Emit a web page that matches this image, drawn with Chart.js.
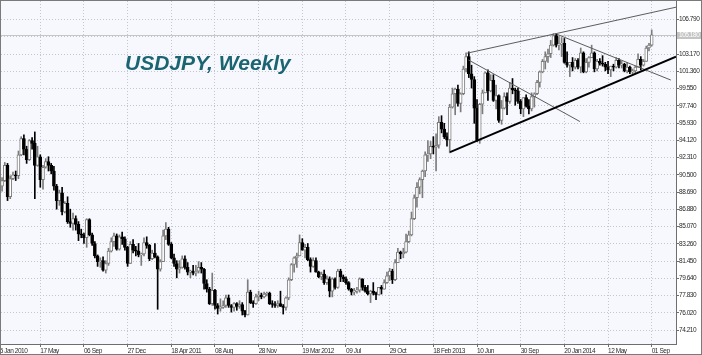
<!DOCTYPE html>
<html>
<head>
<meta charset="utf-8">
<script src="https://cdn.jsdelivr.net/npm/chart.js@4.4.1/dist/chart.umd.min.js"></script>
<style>
    html, body { margin: 0; padding: 0; background: #fff; }
    canvas { display: block; }
</style>
</head>
<body>
<canvas id="usdjpyChart" width="702" height="355"></canvas>
<script>
// weekly bars, index 0 = week of 25 Jan 2010, index 240 = week of 01 Sep 2014
const xTickWeeks = [0, 16, 32, 48, 64, 80, 96, 112, 128, 144, 160, 176, 192, 208, 224, 240];
const xTickLabels = ['25 Jan 2010', '17 May', '06 Sep', '27 Dec', '18 Apr 2011', '08 Aug', '28 Nov',
    '19 Mar 2012', '09 Jul', '29 Oct', '18 Feb 2013', '10 Jun', '30 Sep', '20 Jan 2014', '12 May', '01 Sep'];
const yTicks = [74.21, 76.02, 77.83, 79.64, 81.45, 83.26, 85.07, 86.88, 88.69, 90.50,
    92.31, 94.12, 95.93, 97.74, 99.55, 101.36, 103.17, 104.98, 106.79];
const currentPrice = 105.18;

const opens = [
    90.3, 90.3, 89.3, 89.9, 91.5, 88.2, 90.1, 90.5, 90.4, 92.6,
    94.3, 93.2, 92.1, 94.1, 93.8, 91.5, 92.4, 90.0, 91.3, 91.9,
    91.5, 90.9, 89.3, 87.8, 88.6, 86.6, 87.5, 85.6, 85.4, 85.9,
    85.3, 84.3, 84.2, 83.9, 85.8, 84.2, 83.3, 82.0, 81.4, 81.5,
    80.5, 81.2, 82.5, 83.5, 84.1, 82.7, 84.0, 83.8, 82.9, 81.2,
    83.2, 82.6, 82.5, 82.1, 82.2, 83.4, 83.1, 81.7, 82.3, 81.9,
    80.6, 81.4, 84.1, 84.8, 83.2, 81.8, 81.2, 80.6, 80.8, 81.7,
    80.8, 80.3, 80.4, 80.2, 80.4, 80.8, 80.6, 79.1, 78.5, 77.0,
    78.4, 76.8, 76.5, 76.6, 76.8, 77.6, 76.8, 76.6, 77.0, 76.7,
    76.9, 76.2, 75.8, 78.2, 77.1, 77.0, 77.7, 77.9, 77.7, 78.0,
    78.1, 77.0, 76.9, 76.8, 77.0, 76.7, 76.6, 77.6, 79.5, 81.1,
    81.8, 82.0, 83.4, 82.6, 82.9, 81.6, 80.9, 81.5, 80.3, 79.8,
    80.1, 79.2, 79.6, 78.3, 79.6, 78.7, 80.4, 79.8, 79.6, 79.2,
    78.5, 78.2, 78.3, 78.4, 79.6, 78.7, 78.3, 78.0, 78.3, 78.1,
    77.9, 78.7, 78.5, 79.2, 79.9, 80.4, 79.5, 81.3, 82.4, 82.2,
    82.4, 83.5, 84.2, 85.9, 88.1, 89.2, 90.0, 90.9, 92.6, 92.7,
    93.5, 93.4, 93.6, 96.0, 95.3, 94.5, 94.2, 97.6, 99.0, 99.5,
    98.0, 99.0, 101.6, 102.9, 101.1, 100.5, 97.5, 94.1, 97.9, 99.1,
    101.2, 99.3, 100.4, 98.3, 98.8, 96.2, 97.5, 98.7, 98.2, 99.6,
    99.4, 99.3, 98.2, 97.4, 98.6, 97.7, 97.4, 98.7, 99.0, 100.2,
    101.3, 102.4, 102.9, 103.2, 104.1, 105.1, 104.1, 104.2, 104.3, 102.3,
    102.0, 102.3, 101.8, 102.5, 101.8, 103.3, 101.3, 102.3, 102.8, 103.3,
    101.6, 102.4, 102.2, 102.1, 101.8, 101.5, 101.9, 101.8, 102.5, 102.0,
    102.1, 101.4, 101.8, 101.3, 101.4, 101.8, 102.6, 102.0, 102.4, 103.8,
    104.1
];
const highs = [
    90.9, 91.3, 90.2, 91.8, 91.7, 90.4, 90.8, 90.9, 93.0, 94.5,
    94.7, 93.5, 94.2, 94.4, 95.0, 93.5, 92.6, 91.5, 92.2, 92.4,
    91.7, 91.4, 89.5, 88.9, 89.2, 87.7, 88.2, 86.9, 86.5, 86.2,
    85.6, 84.8, 84.4, 85.9, 85.9, 84.4, 83.5, 82.1, 81.8, 81.9,
    81.5, 82.8, 83.9, 84.4, 84.3, 84.2, 84.5, 84.0, 83.0, 83.5,
    83.7, 83.0, 83.3, 82.3, 83.9, 84.0, 83.2, 82.6, 83.3, 82.0,
    81.6, 84.7, 85.5, 85.0, 83.4, 82.2, 81.5, 81.5, 82.0, 82.0,
    81.3, 80.5, 81.0, 81.0, 81.4, 81.3, 80.7, 79.5, 78.7, 80.2,
    78.5, 77.0, 77.5, 77.3, 77.9, 77.9, 76.9, 77.1, 77.1, 77.3,
    77.1, 76.3, 79.5, 78.4, 77.3, 78.0, 78.3, 78.1, 78.2, 78.2,
    78.2, 77.3, 77.2, 77.3, 78.3, 76.9, 77.7, 79.7, 81.2, 81.9,
    82.3, 84.2, 83.8, 83.2, 83.3, 81.8, 81.8, 81.8, 80.4, 80.3,
    80.5, 79.9, 79.8, 79.7, 79.7, 80.6, 80.6, 80.0, 79.8, 79.3,
    78.6, 78.6, 78.7, 79.7, 79.6, 78.9, 78.9, 78.4, 79.2, 78.2,
    78.7, 78.9, 79.5, 80.3, 80.7, 80.6, 81.6, 82.8, 82.5, 82.8,
    84.3, 84.6, 86.6, 88.4, 89.7, 90.2, 91.0, 92.9, 94.1, 94.0,
    94.5, 94.8, 96.6, 96.7, 95.9, 94.9, 97.9, 99.6, 99.6, 99.9,
    99.1, 101.9, 103.3, 103.4, 102.0, 100.8, 98.4, 98.0, 99.4, 101.3,
    101.5, 101.0, 101.0, 99.9, 98.9, 98.3, 99.1, 99.1, 100.2, 100.6,
    99.6, 99.6, 98.4, 98.6, 98.9, 98.4, 99.1, 99.1, 100.4, 101.4,
    102.6, 103.4, 103.7, 104.6, 105.3, 105.3, 105.0, 104.9, 104.8, 103.4,
    102.3, 102.8, 102.7, 102.7, 103.8, 103.4, 102.7, 102.9, 104.1, 103.4,
    102.6, 102.7, 103.0, 102.3, 102.4, 101.9, 102.1, 102.8, 102.7, 102.4,
    102.2, 102.3, 101.9, 101.6, 101.9, 103.2, 102.9, 102.6, 104.0, 104.3,
    105.7
];
const lows = [
    89.3, 88.9, 88.8, 89.8, 87.8, 88.0, 90.0, 89.9, 90.1, 92.5,
    92.6, 91.7, 92.0, 93.2, 88.0, 91.4, 89.2, 89.0, 91.2, 90.9,
    90.6, 88.9, 86.9, 87.3, 86.3, 86.5, 85.4, 85.0, 84.7, 84.7,
    83.6, 83.9, 83.3, 82.9, 84.1, 83.1, 81.8, 80.9, 80.8, 80.4,
    80.2, 81.0, 82.4, 83.0, 82.6, 82.6, 83.2, 82.6, 80.9, 81.2,
    82.3, 82.0, 81.9, 81.0, 82.0, 82.8, 81.5, 81.6, 81.8, 76.4,
    80.4, 81.4, 83.7, 83.1, 81.7, 80.9, 79.7, 80.2, 80.7, 80.6,
    80.0, 79.7, 80.0, 79.9, 80.2, 80.2, 78.5, 78.2, 76.9, 76.8,
    76.4, 75.9, 76.2, 76.5, 76.6, 76.6, 76.1, 76.2, 76.3, 76.5,
    75.8, 75.6, 75.8, 77.0, 76.6, 76.9, 77.3, 77.5, 77.6, 77.8,
    76.9, 76.6, 76.6, 76.6, 76.7, 75.9, 76.3, 77.4, 79.4, 80.3,
    80.8, 82.0, 82.6, 81.8, 81.5, 80.3, 80.8, 80.3, 79.7, 79.5,
    79.0, 79.0, 77.7, 77.7, 78.5, 78.6, 79.3, 79.3, 79.0, 78.4,
    77.9, 77.9, 78.1, 78.2, 78.4, 78.2, 77.9, 77.1, 77.9, 77.4,
    77.9, 78.0, 78.5, 79.1, 79.4, 79.1, 79.4, 81.3, 81.7, 81.8,
    82.3, 83.4, 84.1, 85.8, 87.1, 88.5, 88.1, 90.3, 91.9, 92.2,
    92.7, 90.9, 93.3, 94.9, 94.3, 93.5, 92.8, 97.5, 96.8, 97.7,
    97.1, 98.9, 101.3, 100.7, 99.6, 95.9, 94.0, 93.8, 96.9, 99.1,
    98.3, 99.2, 98.2, 97.4, 96.0, 95.8, 97.4, 96.8, 98.0, 99.0,
    97.8, 98.0, 96.9, 96.6, 97.6, 96.9, 97.2, 97.6, 98.9, 99.7,
    101.2, 101.6, 102.3, 102.8, 104.0, 103.9, 103.6, 102.9, 102.2, 101.8,
    100.8, 101.4, 101.6, 101.6, 101.2, 101.2, 101.2, 101.8, 102.8, 101.3,
    101.4, 102.0, 101.9, 101.4, 101.1, 100.8, 101.4, 101.7, 101.7, 101.7,
    101.3, 101.2, 101.1, 101.1, 101.1, 101.8, 101.5, 101.9, 102.4, 103.5,
    104.0
];
const closes = [
    90.3, 89.2, 89.9, 91.5, 88.2, 90.1, 90.5, 90.4, 92.6, 94.3,
    93.2, 92.1, 94.1, 93.8, 91.5, 92.4, 90.0, 91.3, 91.9, 91.5,
    90.9, 89.3, 87.8, 88.6, 86.6, 87.5, 85.6, 85.4, 85.9, 85.3,
    84.3, 84.2, 83.9, 85.8, 84.2, 83.3, 82.0, 81.4, 81.5, 80.5,
    81.2, 82.5, 83.5, 84.1, 82.7, 84.0, 83.8, 82.9, 81.2, 83.2,
    82.6, 82.5, 82.1, 82.2, 83.4, 83.1, 81.7, 82.3, 81.9, 80.6,
    81.4, 84.1, 84.8, 83.2, 81.8, 81.2, 80.6, 80.8, 81.7, 80.8,
    80.3, 80.4, 80.2, 80.4, 80.8, 80.6, 79.1, 78.5, 77.0, 78.4,
    76.8, 76.5, 76.6, 76.8, 77.6, 76.8, 76.6, 77.0, 76.7, 76.9,
    76.2, 75.8, 78.2, 77.1, 77.0, 77.7, 77.9, 77.7, 78.0, 78.1,
    77.0, 76.9, 76.8, 77.0, 76.7, 76.6, 77.6, 79.5, 81.1, 81.8,
    82.0, 83.4, 82.6, 82.9, 81.6, 80.9, 81.5, 80.3, 79.8, 80.1,
    79.2, 79.6, 78.3, 79.6, 78.7, 80.4, 79.8, 79.6, 79.2, 78.5,
    78.2, 78.3, 78.4, 79.6, 78.7, 78.3, 78.0, 78.3, 78.1, 77.9,
    78.7, 78.5, 79.2, 79.9, 80.4, 79.5, 81.3, 82.4, 82.2, 82.4,
    83.5, 84.2, 85.9, 88.1, 89.2, 90.0, 90.9, 92.6, 92.7, 93.5,
    93.4, 93.6, 96.0, 95.3, 94.5, 94.2, 97.6, 99.0, 99.5, 98.0,
    99.0, 101.6, 102.9, 101.1, 100.5, 97.5, 94.1, 97.9, 99.1, 101.2,
    99.3, 100.4, 98.3, 98.8, 96.2, 97.5, 98.7, 98.2, 99.6, 99.4,
    99.3, 98.2, 97.4, 98.6, 97.7, 97.4, 98.7, 99.0, 100.2, 101.3,
    102.4, 102.9, 103.2, 104.1, 105.1, 104.1, 104.2, 104.3, 102.3, 102.0,
    102.3, 101.8, 102.5, 101.8, 103.3, 101.3, 102.3, 102.8, 103.3, 101.6,
    102.4, 102.2, 102.1, 101.8, 101.5, 101.9, 101.8, 102.5, 102.0, 102.1,
    101.4, 101.8, 101.3, 101.4, 101.8, 102.6, 102.0, 102.4, 103.8, 104.1,
    105.18
];

// trend lines as [week, price, week, price]
const thinLines = [
    [172.4, 103.26, 248.9, 108.08],
    [172.8, 102.56, 213.7, 96.09],
    [205.2, 105.25, 247.0, 100.44]
];
const supportLine = [166.1, 92.88, 248.9, 102.9];

const tickFont = { family: "'Liberation Sans', Arial, sans-serif", size: 6.5 };
const bullGray = '#7c7c7c';
const isBull = opens.map((o, i) => closes[i] >= o);

const chartBackground = {
    id: 'chartBackground',
    beforeDraw(chart) {
        const { ctx, chartArea: a } = chart;
        ctx.fillStyle = '#ffffff';
        ctx.fillRect(0, 0, chart.width, chart.height);
        ctx.fillStyle = '#f7f8fd';
        ctx.fillRect(a.left, a.top, a.right - a.left, a.bottom - a.top);
        // squeeze the axis labels a little, like the terminal font
        ctx.letterSpacing = '-0.45px';
    },
    beforeDatasetsDraw(chart) {
        // bid line
        const { ctx, chartArea: a, scales: { y } } = chart;
        const py = Math.round(y.getPixelForValue(currentPrice)) + 0.5;
        ctx.save();
        ctx.strokeStyle = '#c6c6c6';
        ctx.lineWidth = 1;
        ctx.beginPath();
        ctx.moveTo(a.left, py);
        ctx.lineTo(a.right, py);
        ctx.stroke();
        ctx.restore();
    }
};

const chartOverlays = {
    id: 'chartOverlays',
    afterDatasetsDraw(chart) {
        const { ctx, chartArea: a, scales: { x, y } } = chart;
        const drawLine = (l, width, color) => {
            ctx.beginPath();
            ctx.lineWidth = width;
            ctx.strokeStyle = color;
            ctx.moveTo(x.getPixelForValue(l[0]), y.getPixelForValue(l[1]));
            ctx.lineTo(x.getPixelForValue(l[2]), y.getPixelForValue(l[3]));
            ctx.stroke();
        };
        ctx.save();
        ctx.beginPath();
        ctx.rect(a.left, a.top, a.right - a.left, a.bottom - a.top);
        ctx.clip();
        thinLines.forEach(l => drawLine(l, 1, '#5c5c5c'));
        drawLine(supportLine, 2, '#000000');

        ctx.letterSpacing = '0px';
        ctx.font = "italic bold 21px 'Liberation Sans', Arial, sans-serif";
        ctx.fillStyle = '#1a6571';
        ctx.textBaseline = 'alphabetic';
        ctx.fillText('USDJPY, Weekly', 125, 69.5);
        ctx.restore();
    },
    afterDraw(chart) {
        const { ctx, chartArea: a, scales: { y } } = chart;
        const py = Math.round(y.getPixelForValue(currentPrice));
        ctx.save();
        ctx.fillStyle = '#c4c4c4';
        ctx.fillRect(a.right + 1, py - 3, chart.width - a.right - 2, 7);
        ctx.fillStyle = '#ffffff';
        ctx.font = `${tickFont.size}px ${tickFont.family}`;
        ctx.textBaseline = 'middle';
        ctx.fillText(currentPrice.toFixed(3), a.right + 3, py + 0.5);
        ctx.strokeStyle = '#7a7a7a';
        ctx.lineWidth = 1;
        ctx.strokeRect(0.5, 0.5, chart.width - 1, chart.height - 1);
        ctx.restore();
    }
};

new Chart(document.getElementById('usdjpyChart'), {
    type: 'bar',
    data: {
        datasets: [
            {
                label: 'Body',
                data: opens.map((o, i) => ({ x: i, y: [o, closes[i]] })),
                backgroundColor: ctx => isBull[ctx.dataIndex] ? '#ffffff' : '#000000',
                borderColor: ctx => isBull[ctx.dataIndex] ? bullGray : '#000000',
                borderWidth: 1,
                borderSkipped: false,
                barThickness: 3,
                minBarLength: 1,
                grouped: false
            },
            {
                label: 'Wick',
                data: lows.map((l, i) => ({ x: i, y: [l, highs[i]] })),
                backgroundColor: ctx => isBull[ctx.dataIndex] ? bullGray : '#000000',
                borderWidth: 0,
                barThickness: 1,
                grouped: false
            }
        ]
    },
    options: {
        responsive: false,
        animation: false,
        devicePixelRatio: 1,
        layout: { padding: { left: 1, top: 1, right: 1, bottom: 1 } },
        plugins: {
            legend: { display: false },
            tooltip: { enabled: false },
            title: { display: false }
        },
        scales: {
            x: {
                type: 'linear',
                offset: false,
                min: 1.61,
                max: 248.9,
                afterBuildTicks: scale => { scale.ticks = xTickWeeks.map(v => ({ value: v })); },
                afterFit: scale => {
                    scale.height = 10;
                    scale.paddingLeft = 0;
                    scale.paddingRight = 0;
                },
                ticks: {
                    callback: (value, index) => xTickLabels[index],
                    align: 'start',
                    autoSkip: false,
                    maxRotation: 0,
                    padding: 0,
                    color: '#2b2b2b',
                    font: tickFont
                },
                grid: { offset: false, color: '#c3c6cc', tickColor: '#6e6e6e', tickLength: 3 },
                border: { color: '#6e6e6e', dash: [1, 2] }
            },
            y: {
                position: 'right',
                min: 72.76,
                max: 108.73,
                afterBuildTicks: scale => { scale.ticks = yTicks.map(v => ({ value: v })); },
                afterFit: scale => {
                    scale.width = 25;
                    scale.paddingTop = 0;
                    scale.paddingBottom = 0;
                },
                ticks: {
                    callback: value => value === 104.98 ? '' : value.toFixed(3),
                    autoSkip: false,
                    padding: 0,
                    color: '#2b2b2b',
                    font: tickFont
                },
                grid: { color: '#c3c6cc', tickColor: '#6e6e6e', tickLength: 3 },
                border: { color: '#6e6e6e', dash: [1, 2] }
            }
        }
    },
    plugins: [chartBackground, chartOverlays]
});
</script>
</body>
</html>
